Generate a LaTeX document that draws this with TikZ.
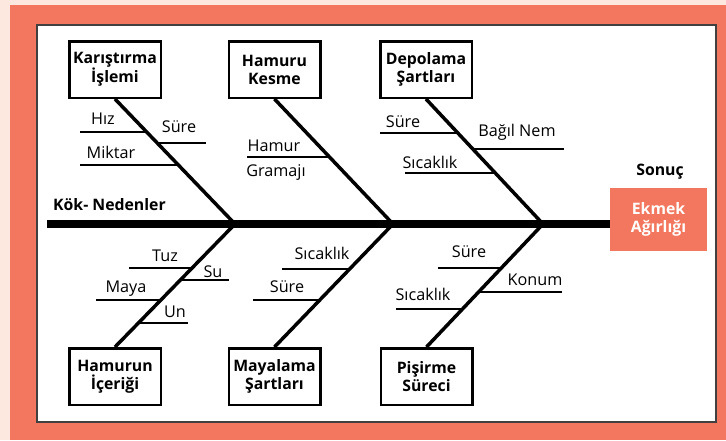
\documentclass[tikz,border=0pt]{standalone}
\usepackage{fontspec}
\setmainfont{Open Sans}
\usepackage{xcolor}
\usepackage{tikz}
\definecolor{coral}{RGB}{243,118,94}
\definecolor{blush}{RGB}{252,232,222}

\begin{document}
\begin{tikzpicture}[x=1pt,y=-1pt,
		cause/.style={draw, line width=2.5pt, minimum width=91.5pt, minimum height=56.5pt, align=center, inner sep=0pt, font=\bfseries\fontsize{15.8}{18}\selectfont},
		bone/.style={line width=3.5pt},
		twig/.style={line width=2.5pt},
		lbl/.style={inner sep=0pt, font=\fontsize{16.2}{18}\selectfont},
		head/.style={inner sep=0pt, font=\bfseries\fontsize{15.8}{18}\selectfont}]
			\useasboundingbox (0,0) rectangle (726,440);
			\fill[blush] (0,0) rectangle (726,440);
			\fill[coral] (10,5) rectangle (726,440);
			\draw[fill=white, draw=black!75, line width=1.5pt] (37,25) rectangle (716,422);
			% cause boxes
			\node[cause] (kar) at (115,69.5) {Karıştırma\\İşlemi};
			\node[cause] (kes) at (274.5,69.5) {Hamuru\\Kesme};
			\node[cause] (dep) at (426,69.5) {Depolama\\Şartları};
			\node[cause] (ham) at (115,376.5) {Hamurun\\İçeriği};
			\node[cause] (may) at (274.5,376.5) {Mayalama\\Şartları};
			\node[cause] (pis) at (426.5,376.5) {Pişirme\\Süreci};
			% effect
			\node[fill=coral, minimum width=97pt, minimum height=63pt, align=center, text=white, inner sep=0pt, font=\bfseries\fontsize{15.8}{18}\selectfont] (agr) at (658.5,219.5) {Ekmek\\Ağırlığı};
			\node[head] (son) at (660,172) {Sonuç};
			\node[head, anchor=west] (kok) at (53,205) {Kök- Nedenler};
			% spine and bones
			\coordinate (tail) at (47,224);
			\coordinate (tip) at (610,224);
			\coordinate (j1) at (235,224);
			\coordinate (j2) at (393,224);
			\coordinate (j3) at (543,224);
			\draw[line width=7.5pt] (tail) -- (tip);
			\draw[bone] (kar.south) -- (j1) -- (ham.north);
			\draw[bone] (kes.south) -- (j2) -- (may.north);
			\draw[bone] (dep.south) -- (j3) -- (pis.north);
			% twigs
			\draw[twig] (80,132) -- (145,132);
			\draw[twig] (156,143) -- (206,143);
			\draw[twig] (80,165) -- (177,165);
			\draw[twig] (247,157) -- (330,157);
			\draw[twig] (380,133) -- (456,133);
			\draw[twig] (471,149) -- (564,149);
			\draw[twig] (405,173) -- (494,173);
			\draw[twig] (129,268) -- (192,268);
			\draw[twig] (181,280) -- (229,280);
			\draw[twig] (96,300) -- (161,300);
			\draw[twig] (138,323) -- (188,323);
			\draw[twig] (282,269) -- (350,269);
			\draw[twig] (253,300) -- (320,300);
			\draw[twig] (438,268) -- (501,268);
			\draw[twig] (478,292) -- (562,292);
			\draw[twig] (396,309) -- (462,309);
			% labels
			\node[lbl] (hiz) at (103,119) {Hız};
			\node[lbl] (sure1) at (179,127) {Süre};
			\node[lbl] (mik) at (111,152) {Miktar};
			\node[lbl] (hmr) at (274,146) {Hamur};
			\node[lbl] (grm) at (276,172) {Gramajı};
			\node[lbl] (sure2) at (403,122) {Süre};
			\node[lbl] (nem) at (517,132) {Bağıl Nem};
			\node[lbl] (sic1) at (430,162) {Sıcaklık};
			\node[lbl] (tuz) at (165,256) {Tuz};
			\node[lbl] (su) at (213,272) {Su};
			\node[lbl] (may2) at (126,289) {Maya};
			\node[lbl] (un) at (175,312) {Un};
			\node[lbl] (sic2) at (322,253) {Sıcaklık};
			\node[lbl] (sure3) at (287,287) {Süre};
			\node[lbl] (sure4) at (469,252) {Süre};
			\node[lbl] (kon) at (535,280) {Konum};
			\node[lbl] (sic3) at (423,294) {Sıcaklık};
		\end{tikzpicture}
\end{document}
